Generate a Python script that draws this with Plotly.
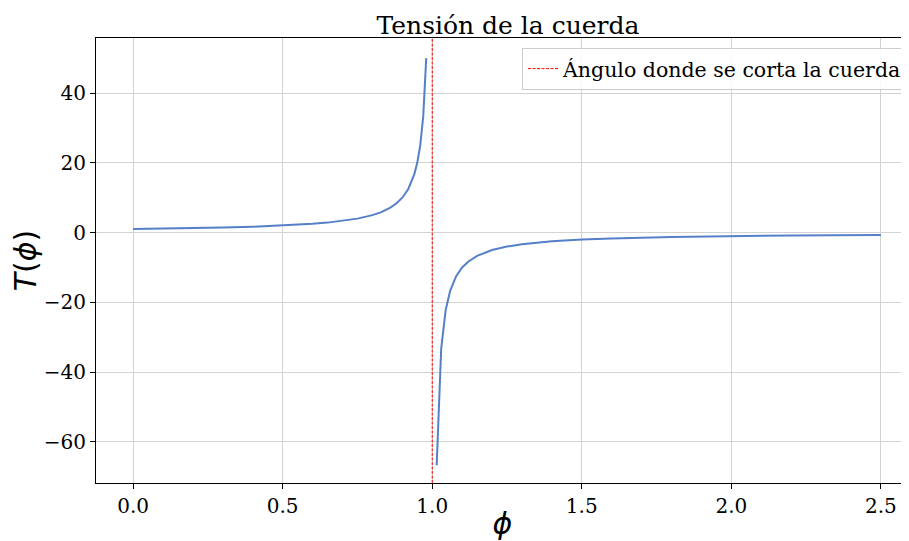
import plotly.graph_objects as go

# Left branch (phi < 1)
phi_left = [0.0, 0.1, 0.2, 0.3, 0.4, 0.5, 0.6, 0.65, 0.7, 0.75, 0.8, 0.83, 0.86,
            0.88, 0.9, 0.92, 0.94, 0.95, 0.96, 0.97, 0.98]
T_left = [1.0, 1.11, 1.25, 1.43, 1.67, 2.0, 2.5, 2.86, 3.33, 4.0, 5.0, 5.88, 7.14,
          8.33, 10.0, 12.5, 16.7, 20.0, 25.0, 33.3, 50.0]

# Right branch (phi > 1)
phi_right = [1.015, 1.03, 1.045, 1.06, 1.08, 1.1, 1.12, 1.15, 1.2, 1.25, 1.3, 1.4,
             1.5, 1.6, 1.8, 2.0, 2.2, 2.5]
T_right = [-66.7, -33.3, -22.2, -16.7, -12.5, -10.0, -8.33, -6.67, -5.0, -4.0, -3.33,
           -2.5, -2.0, -1.67, -1.25, -1.0, -0.83, -0.67]

cut_angle = 1.0
title = "Tensión de la cuerda"
legend_label = "Ángulo donde se corta la cuerda"

line_color = "#5580c8"
serif = "DejaVu Serif, Liberation Serif, serif"

fig = go.Figure()
fig.add_trace(go.Scatter(x=phi_left, y=T_left, mode="lines",
                         line=dict(color=line_color, width=2), showlegend=False))
fig.add_trace(go.Scatter(x=phi_right, y=T_right, mode="lines",
                         line=dict(color=line_color, width=2), showlegend=False))
fig.add_shape(type="line", xref="x", yref="paper", x0=cut_angle, x1=cut_angle,
              y0=0, y1=1, line=dict(color="red", width=1, dash="3px,1.5px"),
              showlegend=True, name=legend_label, layer="above")

axis_common = dict(showline=True, linecolor="black", linewidth=1,
                   ticks="outside", ticklen=5, tickcolor="black",
                   showgrid=True, gridcolor="#d3d3d3", gridwidth=1,
                   zeroline=False, automargin=False,
                   tickfont=dict(family=serif, size=20, color="black"))

fig.update_layout(
    width=901, height=533,
    margin=dict(l=88, r=0, t=30, b=58),
    paper_bgcolor="white", plot_bgcolor="white",
    title=dict(text=title, x=0.5068, xref="paper", xanchor="center",
               yref="container", y=0.984, yanchor="top",
               font=dict(family=serif, size=25, color="black")),
    xaxis=dict(range=[-0.124, 2.594], tickvals=[0, 0.5, 1.0, 1.5, 2.0, 2.5],
               ticktext=["0.0", "0.5", "1.0", "1.5", "2.0", "2.5"],
               mirror=True,
               title=dict(text="<i>ϕ</i>", font=dict(family="DejaVu Sans", size=30, color="black")),
               **axis_common),
    yaxis=dict(range=[-71.75, 55.76], tickvals=[-60, -40, -20, 0, 20, 40],
               ticktext=["−60", "−40", "−20", "0", "20", "40"],
               mirror=False,
               title=dict(text="<i>T</i>(<i>ϕ</i>)", font=dict(family="DejaVu Sans", size=30, color="black")),
               **axis_common),
    legend=dict(x=0.9988, y=0.978, xanchor="right", yanchor="top",
                bgcolor="rgba(255,255,255,0.85)", bordercolor="#cccccc", borderwidth=1,
                font=dict(family=serif, size=20.5, color="black")),
)

fig.write_html("out.html")
